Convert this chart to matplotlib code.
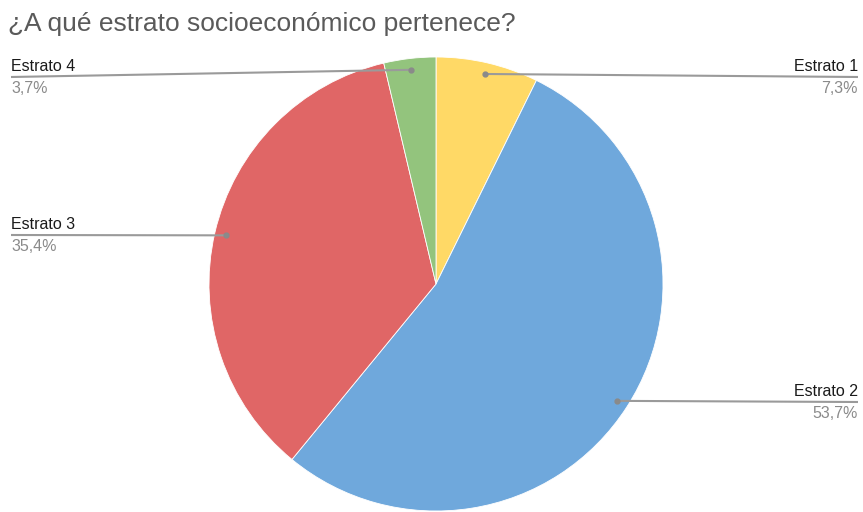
import numpy as np
import matplotlib
matplotlib.use('Agg')
import matplotlib.pyplot as plt

# Survey answers
TITLE = '¿A qué estrato socioeconómico pertenece?'
labels = ['Estrato 1', 'Estrato 2', 'Estrato 3', 'Estrato 4']
shares = [7.3, 53.7, 35.4, 3.7]
colors = ['#FFD966', '#6FA8DC', '#E06666', '#93C47D']

W, H = 863, 512
CENTER = (436, H - 284)
RADIUS = 227
# where each leader line ends (x, y) and which side the text sits on
LEADER_END = {
    'Estrato 1': (858, H - 77, 'right'),
    'Estrato 2': (858, H - 402, 'right'),
    'Estrato 3': (11, H - 235, 'left'),
    'Estrato 4': (11, H - 77, 'left'),
}

plt.rcParams['font.family'] = ['Liberation Sans', 'DejaVu Sans']

fig = plt.figure(figsize=(W / 100, H / 100), dpi=100)
ax = fig.add_axes([0, 0, 1, 1])

wedges, _ = ax.pie(shares, colors=colors, center=CENTER, radius=RADIUS,
                   startangle=90, counterclock=False, frame=False,
                   wedgeprops=dict(edgecolor='white', linewidth=0.6))

for w, lab, val in zip(wedges, labels, shares):
    mid = np.deg2rad((w.theta1 + w.theta2) / 2)
    px = CENTER[0] + 0.95 * RADIUS * np.cos(mid)
    py = CENTER[1] + 0.95 * RADIUS * np.sin(mid)
    ex, ey, side = LEADER_END[lab]
    ax.plot([px, ex], [py, ey], color='#9a9a9a', lw=1.5, solid_capstyle='butt')
    ax.plot(px, py, 'o', color='#8a8a8a', ms=3.5)
    ax.text(ex, ey + 6, lab, ha=side, va='baseline', fontsize=11.5, color='#1a1a1a')
    ax.text(ex, ey - 16, f'{val:.1f}%'.replace('.', ','), ha=side, va='baseline',
            fontsize=11.5, color='#8a8a8a')

ax.set_xlim(0, W)
ax.set_ylim(0, H)
ax.set_aspect('equal')
ax.axis('off')

fig.text(8 / W, 1 - 31 / H, TITLE, ha='left', va='baseline',
         fontsize=19, color='#5a5a5a')

fig.savefig('out.png', dpi=100, facecolor='white')
